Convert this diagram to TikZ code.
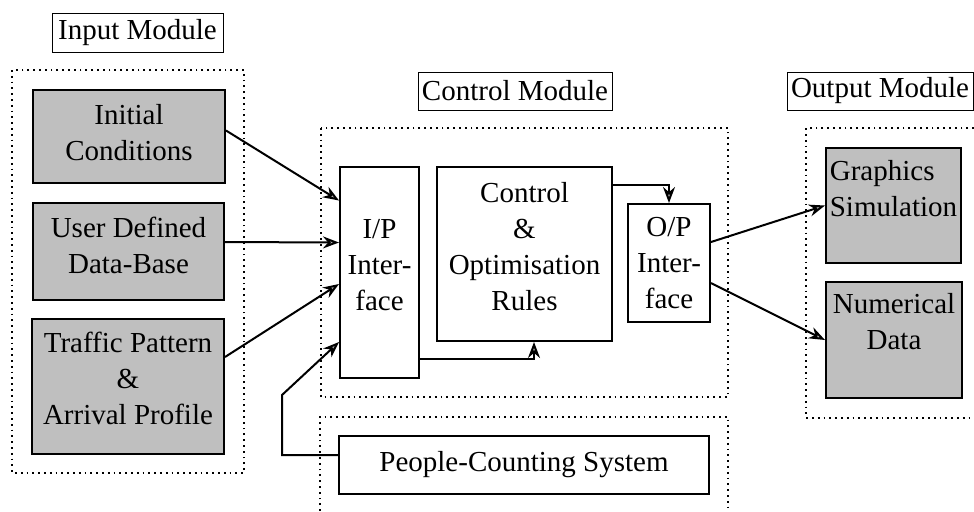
\documentclass[tikz,border=0pt]{standalone}
\usepackage{fontspec}
\setmainfont{Liberation Serif}
\usetikzlibrary{arrows.meta}
\begin{document}
\begin{tikzpicture}[x=0.5pt,y=-0.5pt]
  \tikzstyle{title} = [rectangle, draw, line width=0.5pt, inner sep=0pt, font=\fontsize{14.5}{18}\selectfont]
  \tikzstyle{module} = [line width=0.9pt, dotted]
  \tikzstyle{block} = [rectangle, draw, line width=1pt, inner sep=0pt, align=center, font=\fontsize{14.5}{18}\selectfont]
  \tikzstyle{data} = [block, fill=gray!50]
  \tikzstyle{arrow} = [line width=1pt, -{Stealth[length=8pt, width=6pt, fill=gray!60]}]

  \useasboundingbox (0,0) rectangle (974,511);

  % Input module
  \node [title, minimum width=85.5pt, minimum height=19.5pt] (intitle) at (137.5,32.5) {Input Module};
  \draw [module] (12,70) rectangle (244,473);
  \node [data, minimum width=96pt, minimum height=46.5pt, text depth=4pt] (init) at (129,136.5) {Initial\\Conditions};
  \node [data, minimum width=95.5pt, minimum height=48.5pt, text depth=6pt] (user) at (128.5,251.5) {User Defined\\Data-Base};
  \node [data, minimum width=96pt, minimum height=67.5pt, text depth=8pt] (traffic) at (128,386.5) {Traffic Pattern\\\&\\Arrival Profile};

  % Control module
  \node [title, minimum width=97pt, minimum height=19pt] (ctitle) at (515,91) {Control Module};
  \draw [module] (321,128) rectangle (728,397);
  \node [block, minimum width=39.5pt, minimum height=105.5pt, text depth=8pt] (ip) at (379.5,272.5) {I/P\\Inter-\\face};
  \node [block, minimum width=87.5pt, minimum height=87pt, text depth=8pt] (ctrl) at (524.5,254) {Control\\\&\\Optimisation\\Rules};
  \node [block, minimum width=41pt, minimum height=59pt] (op) at (669,263) {O/P\\Inter-\\face};

  % People counting
  \draw [module] (320,511) -- (320,417) -- (728,417) -- (728,511);
  \node [block, minimum width=185pt, minimum height=29pt] (pcs) at (524,465) {People-Counting System};
  \coordinate (pcsbend) at (282,395);

  % Output module
  \node [title, minimum width=93pt, minimum height=19pt] (otitle) at (880,91) {Output Module};
  \draw [module] (974,128) -- (806,128) -- (806,418) -- (974,418);
  \node [data, align=left, minimum width=67.5pt, minimum height=57.5pt, text depth=17pt] (graph) at (893.5,205.5) {Graphics\\Simulation};
  \node [data, minimum width=68pt, minimum height=58pt, text depth=19pt] (num) at (894,340) {Numerical\\Data};

  % Input arrows
  \draw [arrow] ([yshift=3pt]init.east) -- ([yshift=36pt]ip.west);
  \draw [arrow] ([yshift=4.75pt]user.east) -- ([yshift=15pt]ip.west);
  \draw [arrow] ([yshift=14.75pt]traffic.east) -- ([yshift=-5.75pt]ip.west);
  \draw [arrow] ([yshift=5pt]pcs.west) -| (pcsbend) -- ([yshift=-34.75pt]ip.west);

  % Internal arrows
  \draw [arrow] ([yshift=-43.25pt]ip.east) -| ([xshift=4.75pt]ctrl.south);
  \draw [arrow] ([yshift=34.5pt]ctrl.east) -| (op.north);

  % Output arrows
  \draw [arrow] ([yshift=10.5pt]op.east) -- (graph.west);
  \draw [arrow] ([yshift=-10pt]op.east) -- (num.west);
\end{tikzpicture}
\end{document}
